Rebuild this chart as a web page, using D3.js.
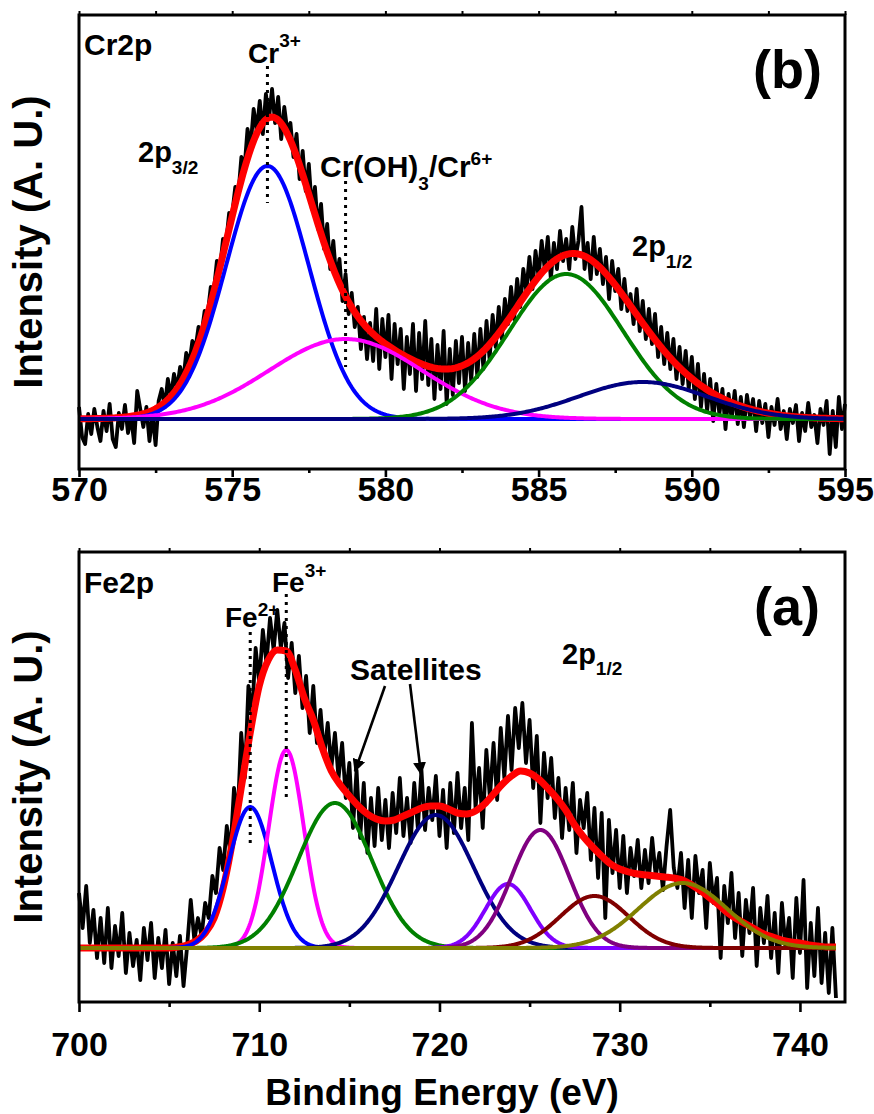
<!DOCTYPE html>
<html>
<head>
<meta charset="utf-8">
<script src="https://cdn.jsdelivr.net/npm/d3@7"></script>
<style>
  body { margin: 0; background: #fff; }
  svg { display: block; }
</style>
</head>
<body>
<svg id="chart" width="874" height="1114"></svg>
<script>
// ---------- Cr 2p spectrum (570.0 – 595.0 eV, 0.1 eV steps) ----------
const crStartEnergy = 570;
const crStepEnergy = 0.1;
const crCounts = [
  12,-18,-25,5,-15,10,-8,-22,8,-12,
  15,-20,-28,6,-10,14,-14,2,-24,28,
  10,-8,12,-22,4,-26,18,30,12,40,
  22,45,30,52,38,66,55,78,70,92,
  85,108,105,132,128,158,150,180,176,206,
  205,232,225,262,250,290,272,310,288,318,
  285,325,300,330,296,322,280,312,288,296,
  262,285,240,268,228,255,210,232,190,215,
  170,195,150,178,140,160,118,145,105,126,
  92,112,70,102,60,96,58,110,50,100,
  62,104,40,95,55,90,30,82,45,95,
  28,86,40,98,34,80,20,74,30,88,
  15,70,24,78,36,82,28,76,38,85,
  42,90,50,98,60,104,72,112,80,120,
  95,132,100,140,112,150,128,162,130,168,
  142,178,150,182,140,176,150,188,158,180,
  150,192,160,178,212,150,176,140,182,145,
  170,135,162,120,158,128,150,110,140,108,
  125,95,130,88,118,80,110,75,105,62,
  92,55,86,50,80,40,72,35,68,30,
  62,20,55,12,45,8,40,-2,35,5,
  30,-10,25,0,28,-5,22,-8,24,2,
  20,-12,18,-4,15,-18,12,-6,20,-10,
  8,-20,10,-4,14,-22,6,-12,16,-8,
  4,-24,10,-6,18,-35,8,-28,22,-10,
  15
];
// Fitted Gaussian components: Cr3+ 2p3/2, Cr(OH)3/Cr6+, 2p1/2, 2p1/2 shoulder
const crPeakCenters = [576.15, 578.7, 585.9, 588.4];
const crPeakHeights = [253, 80, 145, 37];
const crPeakSigmas  = [1.35, 2.5, 1.86, 2.1];
const crMajorTicks = [570, 575, 580, 585, 590, 595];
const crMinorTicks = [572.5, 577.5, 582.5, 587.5, 592.5];

// ---------- Fe 2p spectrum (700.0 – 742.0 eV, 0.2 eV steps) ----------
const feStartEnergy = 700;
const feStepEnergy = 0.2;
const feCounts = [
  55,20,62,5,38,-10,30,-15,40,-20,
  22,-8,35,-25,15,-18,8,-32,20,-12,
  25,-30,10,-20,18,-36,5,-28,12,-38,
  2,48,8,30,12,45,30,72,55,100,
  78,122,95,160,130,215,170,262,232,300,
  265,318,285,330,298,338,300,325,270,305,
  255,292,240,272,215,262,205,238,192,225,
  180,215,170,205,150,185,120,178,110,165,
  95,150,102,160,108,148,100,155,115,170,
  112,150,105,165,120,178,118,160,128,172,
  112,158,100,165,115,175,120,160,108,225,
  140,180,120,198,150,205,148,220,170,232,
  178,240,200,245,185,228,160,212,125,195,
  150,190,130,170,110,160,118,165,95,148,
  120,155,88,140,70,135,30,128,75,118,
  60,112,55,100,72,108,60,98,65,110,
  72,95,58,102,138,80,60,95,40,88,
  30,92,55,78,20,85,45,70,-10,62,
  25,75,10,55,-8,48,15,60,-18,40,
  5,52,-10,35,-25,45,0,30,-30,50,
  -5,68,-40,25,-28,40,-35,15,-45,20,
  -50
];
// Overall fitted envelope (700.0 – 742.0 eV, 0.5 eV steps)
const feFitStartEnergy = 700;
const feFitStepEnergy = 0.5;
const feFitEnvelope = [
  0,0,0,0,0,0,0,0,0,0,
  0,1,3,7,15,30,60,105,160,215,
  262,288,298,297,278,250,228,200,177,163,
  152,142,134,129,127,128,132,136,140,142,
  142,139,135,134,137,144,154,164,172,177,
  175,169,160,150,138,123,111,101,92,84,
  79,76,74,73,72,71,70,68,63,57,
  50,43,35,29,24,19,14,11,8,6,
  5,3,2,1,1
];
// Fe2+, Fe3+, satellites and 2p1/2 components
const fePeakCenters = [709.5, 711.5, 714.2, 719.8, 723.8, 725.6, 728.6, 733.5];
const fePeakHeights = [141, 198, 145, 133, 64, 118, 52, 65];
const fePeakSigmas  = [1.2, 0.98, 2.05, 2.1, 1.25, 1.6, 1.9, 2.45];
const feMajorTicks = [700, 710, 720, 730, 740];
const feMinorTicks = [705, 715, 725, 735];

// ---------- styling ----------
const FONT = "'Liberation Sans', Arial, Helvetica, sans-serif";
const crPeakColors = ["#0000ff", "#ff00ff", "#008000", "#000080"];
const fePeakColors = ["#0000ff", "#ff00ff", "#008000", "#000080", "#8000ff", "#800080", "#800000", "#808000"];

const svg = d3.select("#chart");

function gaussian(e, c, h, s) {
  const d = e - c;
  return h * Math.exp(-(d * d) / (2 * s * s));
}

function drawPanel(p) {
  const x = d3.scaleLinear().domain(p.xDomain).range([p.left, p.right]);
  const y = d3.scaleLinear().domain(p.yDomain).range([p.bottom, p.top]);
  const g = svg.append("g");

  // measured spectrum
  const pts = p.counts.map((v, i) => [p.start + i * p.step, v]);
  const eEnd = pts[pts.length - 1][0];
  const line = d3.line().x(d => x(d[0])).y(d => y(d[1]));
  g.append("path").datum(pts)
    .attr("d", line).attr("fill", "none").attr("stroke", "#000")
    .attr("stroke-width", 3.8).attr("stroke-linejoin", "round");

  // fitted components on a fine energy grid
  const grid = d3.range(p.start, eEnd + 1e-9, 0.05);
  const comps = p.centers.map((c, k) => grid.map(e => [e, gaussian(e, c, p.heights[k], p.sigmas[k])]));

  // overall fit: tabulated envelope if given, otherwise the sum of components
  let envelope, envLine = line;
  if (p.envelope) {
    envelope = p.envelope.map((v, i) => [p.envStart + i * p.envStep, v]);
    envLine = d3.line().x(d => x(d[0])).y(d => y(d[1])).curve(d3.curveMonotoneX);
  } else {
    envelope = grid.map((e, i) => [e, d3.sum(comps, cp => cp[i][1])]);
  }
  g.append("path").datum(envelope)
    .attr("d", envLine).attr("fill", "none").attr("stroke", "#ff0000")
    .attr("stroke-width", 7).attr("stroke-linejoin", "round");

  comps.forEach((cp, k) => {
    g.append("path").datum(cp)
      .attr("d", line).attr("fill", "none").attr("stroke", p.colors[k])
      .attr("stroke-width", 4).attr("stroke-linejoin", "round");
  });

  // frame
  g.append("rect")
    .attr("x", p.left).attr("y", p.top)
    .attr("width", p.right - p.left).attr("height", p.bottom - p.top)
    .attr("fill", "none").attr("stroke", "#000").attr("stroke-width", 3);

  // bottom axis: major with labels, minor without
  const major = d3.axisBottom(x).tickValues(p.major).tickSize(p.tickLen).tickPadding(p.labelPad)
    .tickFormat(d3.format("d"));
  g.append("g").attr("transform", `translate(0,${p.bottom})`).call(major)
    .call(s => s.select(".domain").remove())
    .call(s => s.selectAll("line").attr("stroke-width", 2.6))
    .attr("font-size", 34).attr("font-family", FONT).attr("font-weight", "bold");
  const minor = d3.axisBottom(x).tickValues(p.minor).tickSize(p.tickLen / 2).tickFormat(() => "");
  g.append("g").attr("transform", `translate(0,${p.bottom})`).call(minor)
    .call(s => s.select(".domain").remove())
    .call(s => s.selectAll("line").attr("stroke-width", 2.6));
  // small ticks on the top edge
  const topAxis = d3.axisTop(x).tickValues(p.major.concat(p.minor)).tickSize(4).tickFormat(() => "");
  g.append("g").attr("transform", `translate(0,${p.top})`).call(topAxis)
    .call(s => s.select(".domain").remove())
    .call(s => s.selectAll("line").attr("stroke-width", 2));

  // y title, centred on the panel
  g.append("text")
    .attr("transform", `translate(42,${(p.top + p.bottom) / 2}) rotate(-90)`)
    .attr("text-anchor", "middle")
    .attr("font-family", FONT).attr("font-weight", "bold").attr("font-size", 40)
    .text("Intensity (A. U.)");

  return { x, y, g };
}

// text with optional super/subscript parts: [{t, dy, size}]
function richText(g, xPos, yPos, size, parts, anchor) {
  const t = g.append("text")
    .attr("x", xPos).attr("y", yPos)
    .attr("font-family", FONT).attr("font-weight", "bold").attr("font-size", size)
    .attr("text-anchor", anchor || "start");
  let shift = 0;
  parts.forEach(pt => {
    const target = pt.dy || 0;
    t.append("tspan")
      .attr("dy", target - shift)
      .attr("font-size", pt.size || size)
      .text(pt.t);
    shift = target;
  });
  return t;
}

function dotted(g, xPos, y1, y2) {
  g.append("line")
    .attr("x1", xPos).attr("x2", xPos).attr("y1", y1).attr("y2", y2)
    .attr("stroke", "#000").attr("stroke-width", 3).attr("stroke-dasharray", "3,5");
}

// ---------- panel (b): Cr 2p ----------
const cr = drawPanel({
  left: 79, right: 845, top: 15, bottom: 469,
  xDomain: [570, 595], yDomain: [-50, 404],
  start: crStartEnergy, step: crStepEnergy, counts: crCounts,
  centers: crPeakCenters, heights: crPeakHeights, sigmas: crPeakSigmas, colors: crPeakColors,
  major: crMajorTicks, minor: crMinorTicks, tickLen: 8, labelPad: 0
});
dotted(cr.g, cr.x(crPeakCenters[0]), 66, 203);
dotted(cr.g, cr.x(crPeakCenters[1]), 181, 367);
richText(cr.g, 84, 55, 30, [{ t: "Cr2p" }]);
richText(cr.g, 248, 63, 28, [{ t: "Cr" }, { t: "3+", dy: -16, size: 19 }]);
richText(cr.g, 822, 88, 54, [{ t: "(b)" }], "end");
richText(cr.g, 138, 162, 29, [{ t: "2p" }, { t: "3/2", dy: 12, size: 19 }]);
richText(cr.g, 320, 177, 30, [{ t: "Cr(OH)" }, { t: "3", dy: 13, size: 19 }, { t: "/Cr" }, { t: "6+", dy: -12, size: 19 }]);
richText(cr.g, 632, 256, 29, [{ t: "2p" }, { t: "1/2", dy: 12, size: 19 }]);

// ---------- panel (a): Fe 2p ----------
const fe = drawPanel({
  left: 79, right: 845, top: 552, bottom: 1002,
  xDomain: [700, 742.5], yDomain: [-54, 396],
  start: feStartEnergy, step: feStepEnergy, counts: feCounts,
  envelope: feFitEnvelope, envStart: feFitStartEnergy, envStep: feFitStepEnergy,
  centers: fePeakCenters, heights: fePeakHeights, sigmas: fePeakSigmas, colors: fePeakColors,
  major: feMajorTicks, minor: feMinorTicks, tickLen: 10, labelPad: 20
});
dotted(fe.g, fe.x(fePeakCenters[0]), 632, 847);
dotted(fe.g, fe.x(fePeakCenters[1]), 594, 802);
richText(fe.g, 84, 593, 30, [{ t: "Fe2p" }]);
richText(fe.g, 272, 592, 28, [{ t: "Fe" }, { t: "3+", dy: -15, size: 19 }]);
richText(fe.g, 225, 627, 28, [{ t: "Fe" }, { t: "2+", dy: -11, size: 19 }]);
richText(fe.g, 820, 625, 54, [{ t: "(a)" }], "end");
richText(fe.g, 350, 680, 30, [{ t: "Satellites" }]);
richText(fe.g, 562, 664, 29, [{ t: "2p" }, { t: "1/2", dy: 11, size: 19 }]);

// satellite arrows
const defs = svg.append("defs");
defs.append("marker")
  .attr("id", "arrowHead").attr("viewBox", "0 0 10 10")
  .attr("refX", 9).attr("refY", 5)
  .attr("markerWidth", 5).attr("markerHeight", 5).attr("markerUnits", "strokeWidth")
  .attr("orient", "auto")
  .append("path").attr("d", "M0,0 L10,5 L0,10 z").attr("fill", "#000");
[[385, 686, 355, 771], [410, 684, 421, 774]].forEach(a => {
  fe.g.append("line")
    .attr("x1", a[0]).attr("y1", a[1]).attr("x2", a[2]).attr("y2", a[3])
    .attr("stroke", "#000").attr("stroke-width", 2.6)
    .attr("marker-end", "url(#arrowHead)");
});

// shared x title
svg.append("text")
  .attr("x", 442).attr("y", 1105)
  .attr("text-anchor", "middle")
  .attr("font-family", FONT).attr("font-weight", "bold").attr("font-size", 37)
  .text("Binding Energy (eV)");
</script>
</body>
</html>
